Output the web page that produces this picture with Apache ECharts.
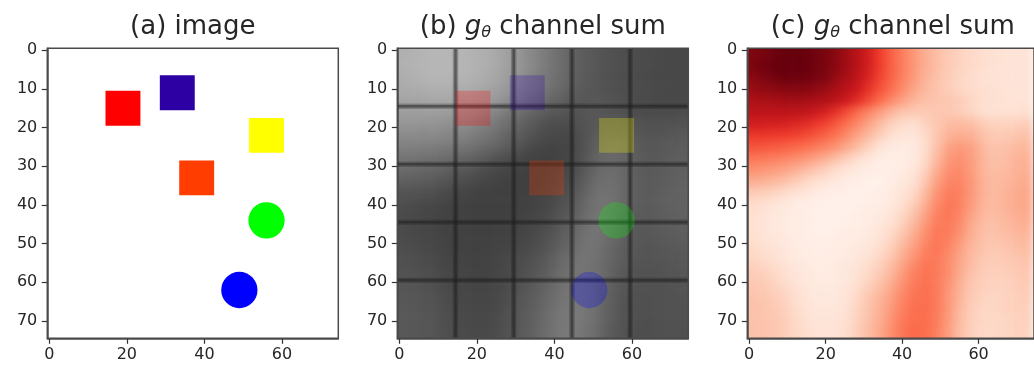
<!DOCTYPE html>
<html><head><meta charset="utf-8">
<script src="https://cdn.jsdelivr.net/npm/echarts@6/dist/echarts.min.js"></script>
<style>
html,body{margin:0;padding:0;background:#fff}
#wrap{position:relative;width:1034px;height:367px;overflow:hidden}
#heat,#c{position:absolute;left:0;top:0;width:1034px;height:367px}
#heat{filter:blur(4px)}
</style>
</head><body><div id="wrap"><div id="heat"></div><div id="c"></div></div>
<script>
// ---- data ----
const xTicks = [0, 20, 40, 60];
const yTicks = [0, 10, 20, 30, 40, 50, 60, 70];
const cellCenters = [1,4,7,10,13,16,19,22,25,28,31,34,37,40,43,46,49,52,55,58,61,64,67,70,73];
// g_theta channel sum (relative, 0..100), rows = y centres, cols = x centres
const fieldRows = [
[95,97,99,100,100,99,97,94,89,82,73,63,53,44,36,29,24,20,17,15,13,12,11,10,10],
[96,98,100,100,100,99,97,94,89,82,73,63,53,44,36,29,24,20,17,15,13,12,11,10,10],
[93,96,98,99,99,98,96,92,87,80,71,61,52,43,35,28,23,19,16,14,12,11,10,10,10],
[90,92,93,94,94,93,91,87,82,75,66,57,49,40,32,26,22,19,16,14,13,12,11,10,10],
[85,86,87,88,88,87,85,81,75,68,59,50,41,33,27,23,22,21,19,16,13,12,11,11,11],
[80,80,80,80,79,77,73,67,59,50,42,34,27,22,20,20,21,21,19,16,13,12,12,12,13],
[73,73,72,71,69,66,62,56,49,41,33,25,18,14,13,17,21,24,25,24,20,17,17,18,19],
[64,64,63,62,60,57,53,48,41,33,26,19,13,10,9,14,21,27,29,28,23,20,20,22,23],
[56,55,54,52,50,47,43,38,32,25,18,11,7,6,7,13,23,32,35,33,26,22,23,25,26],
[46,45,43,41,38,34,30,25,19,14,9,6,4,5,7,14,25,35,38,34,27,23,24,27,28],
[38,36,34,31,27,23,19,14,10,7,5,4,4,6,9,17,29,38,40,35,27,24,25,28,29],
[29,27,25,22,18,14,11,8,6,4,3,3,5,8,12,21,33,41,42,36,28,25,26,29,30],
[19,18,16,13,10,7,5,4,3,3,3,4,6,10,15,25,37,44,43,36,28,25,27,30,31],
[14,12,9,7,5,4,3,3,3,3,4,5,8,13,19,29,40,46,43,35,27,25,27,30,31],
[12,10,8,6,5,4,3,3,3,4,5,7,10,16,23,33,43,46,41,32,26,24,26,29,30],
[12,10,8,6,5,4,3,3,4,5,6,9,13,19,27,37,45,45,39,30,24,23,25,27,28],
[13,11,9,7,5,4,4,4,5,6,8,11,16,23,31,40,46,43,36,28,23,22,23,25,26],
[15,13,11,8,6,5,4,5,6,8,10,14,19,27,35,43,46,41,33,26,22,20,21,23,24],
[17,15,13,10,7,6,5,6,7,10,13,17,23,31,39,46,45,39,31,25,20,19,20,21,22],
[19,18,15,12,9,7,6,6,8,11,15,20,26,35,43,47,45,39,30,23,19,18,18,20,21],
[21,20,17,14,11,8,7,7,9,13,18,23,30,38,45,48,45,37,28,21,18,17,17,19,20],
[22,21,19,16,12,9,8,8,10,15,21,26,33,41,47,48,45,36,27,20,17,16,17,18,19],
[23,22,20,17,13,10,9,9,11,16,22,28,35,43,48,49,45,36,26,19,16,16,17,18,18],
[23,22,21,18,14,11,10,10,12,17,23,29,37,45,49,49,44,35,25,18,16,15,16,17,18],
[23,22,21,18,15,12,11,11,13,18,24,30,38,46,50,49,43,34,24,18,15,15,16,17,17]
];
// objects in the image
const shapeX = [19, 33, 56, 38, 56, 49];
const shapeY = [15, 11, 22, 33, 44, 62];
const shapeKind = ['square', 'square', 'square', 'square', 'circle', 'circle'];
const shapeColor = ['#ff0000', '#2c00a3', '#ffff00', '#ff3d00', '#00ff00', '#0000ff'];
const gridLinesB = [14.5, 29.5, 44.5, 59.5];
const titles = ['(a) image', '(b) {g|g}{s|θ} channel sum', '(c) {g|g}{s|θ} channel sum'];

// ---- build ----
const FONT = 'DejaVu Sans';
const panelLeft = [47.3, 397.3, 747.3];
const PT = 48.3, PW = 291, PH = 290;
const heatData = [];
fieldRows.forEach((row, i) => row.forEach((v, j) => heatData.push([cellCenters[j], cellCenters[i], v])));
const shapeData = shapeX.map((x, i) => [x, shapeY[i], i]);
const lineData = gridLinesB.map(v => [v, v]);

function cellItem(params, api) {
  const x = api.value(0), y = api.value(1);
  let x0 = x - 1.5, x1 = x + 1.5, y0 = y - 1.5, y1 = y + 1.5;
  // extend border cells outward so the soft rendering keeps full colour at the frame
  if (x0 < 0) x0 = -5; if (x1 > 74) x1 = 80; if (y0 < 0) y0 = -5; if (y1 > 74) y1 = 80;
  const a = api.coord([x0, y0]), b = api.coord([x1, y1]);
  return { type: 'rect', shape: { x: a[0], y: a[1], width: b[0] - a[0] + 0.6, height: b[1] - a[1] + 0.6 },
    style: { fill: api.visual('color') } };
}
function shapeItemFactory(opacity) {
  return function (params, api) {
    const x = api.value(0), y = api.value(1), k = api.value(2);
    const c = api.coord([x, y]);
    const s = api.size([9, 9]);
    const style = { fill: shapeColor[k], opacity: opacity };
    if (shapeKind[k] === 'square') {
      return { type: 'rect', shape: { x: c[0] - s[0] / 2, y: c[1] - s[1] / 2, width: s[0], height: s[1] }, style };
    }
    return { type: 'circle', shape: { cx: c[0], cy: c[1], r: s[0] * 0.52 }, style };
  };
}
function lineItem(params, api) {
  const v = api.value(0);
  const v0 = api.coord([v, -0.5]), v1 = api.coord([v, 74.5]);
  const h0 = api.coord([-0.5, v]), h1 = api.coord([74.5, v]);
  const soft = { stroke: 'rgba(30,30,30,0.28)', lineWidth: 5.5 };
  const core = { stroke: 'rgba(30,30,30,0.45)', lineWidth: 2.5 };
  const seg = (p, q, st) => ({ type: 'line', shape: { x1: p[0], y1: p[1], x2: q[0], y2: q[1] }, style: st });
  return { type: 'group', children: [seg(v0, v1, soft), seg(h0, h1, soft), seg(v0, v1, core), seg(h0, h1, core)] };
}

function makeAxes(visible) {
  const common = (ticks, margin) => ({
    type: 'value', min: -0.5, max: 74.5, splitLine: { show: false },
    axisLine: { show: visible, onZero: false, lineStyle: { color: '#4a4a4a', width: 1.5 } },
    axisTick: { show: visible, customValues: ticks, length: 5.5, lineStyle: { color: '#333', width: 1.2 } },
    axisLabel: { show: visible, customValues: ticks, fontSize: 16, fontFamily: FONT, color: '#262626', margin: margin } });
  return {
    grid: panelLeft.map(l => ({ left: l, top: PT, width: PW, height: PH, show: visible,
      borderColor: '#4a4a4a', borderWidth: 1.5, backgroundColor: 'rgba(0,0,0,0)', z: 10 })),
    xAxis: panelLeft.map((l, i) => Object.assign({ gridIndex: i }, common(xTicks, 9))),
    yAxis: panelLeft.map((l, i) => Object.assign({ gridIndex: i, inverse: true }, common(yTicks, 10)))
  };
}

// soft (blurred) field layer
const heatAxes = makeAxes(false);
const heatOption = {
  animation: false,
  grid: heatAxes.grid, xAxis: heatAxes.xAxis, yAxis: heatAxes.yAxis,
  visualMap: [
    { type: 'continuous', show: false, seriesIndex: 0, dimension: 2, min: 0, max: 100,
      inRange: { color: ['#3c3c3c', '#b6b6b6'] } },
    { type: 'continuous', show: false, seriesIndex: 1, dimension: 2, min: 0, max: 100,
      inRange: { color: ['#fff5f0','#fee0d2','#fcbba1','#fc9272','#fb6a4a','#ef3b2c','#cb181d','#a50f15','#67000d'] } }
  ],
  series: [
    { type: 'custom', xAxisIndex: 1, yAxisIndex: 1, data: heatData, renderItem: cellItem, encode: { x: 0, y: 1 }, clip: false },
    { type: 'custom', xAxisIndex: 2, yAxisIndex: 2, data: heatData, renderItem: cellItem, encode: { x: 0, y: 1 }, clip: false }
  ]
};
const heatEl = document.getElementById('heat');
heatEl.style.clipPath = "path('" + [1, 2].map(i =>
  'M' + panelLeft[i] + ' ' + PT + ' H' + (panelLeft[i] + PW) + ' V' + (PT + PH) + ' H' + panelLeft[i] + ' Z').join(' ') + "')";
echarts.init(heatEl).setOption(heatOption);

// crisp layer: frames, axes, titles, objects
const axes = makeAxes(true);
const title = titles.map((t, i) => ({ text: t, left: panelLeft[i] + PW / 2, top: 13, textAlign: 'center', padding: 0,
  textStyle: { fontSize: 26, fontWeight: 'normal', fontFamily: FONT, color: '#262626', lineHeight: 28,
    rich: { g: { fontSize: 26, fontStyle: 'italic', fontFamily: FONT, color: '#262626', lineHeight: 28 },
            s: { fontSize: 16, fontStyle: 'italic', fontFamily: FONT, color: '#262626', lineHeight: 19, verticalAlign: 'bottom' } } } }));
const option = {
  animation: false,
  title, grid: axes.grid, xAxis: axes.xAxis, yAxis: axes.yAxis,
  series: [
    { type: 'custom', xAxisIndex: 1, yAxisIndex: 1, data: lineData, renderItem: lineItem, encode: { x: 0, y: 1 }, clip: true, z: 3 },
    { type: 'custom', xAxisIndex: 0, yAxisIndex: 0, data: shapeData, renderItem: shapeItemFactory(1), encode: { x: 0, y: 1 }, clip: true, z: 3 },
    { type: 'custom', xAxisIndex: 1, yAxisIndex: 1, data: shapeData, renderItem: shapeItemFactory(0.25), encode: { x: 0, y: 1 }, clip: true, z: 4 }
  ]
};
echarts.init(document.getElementById('c')).setOption(option);
</script></body></html>
